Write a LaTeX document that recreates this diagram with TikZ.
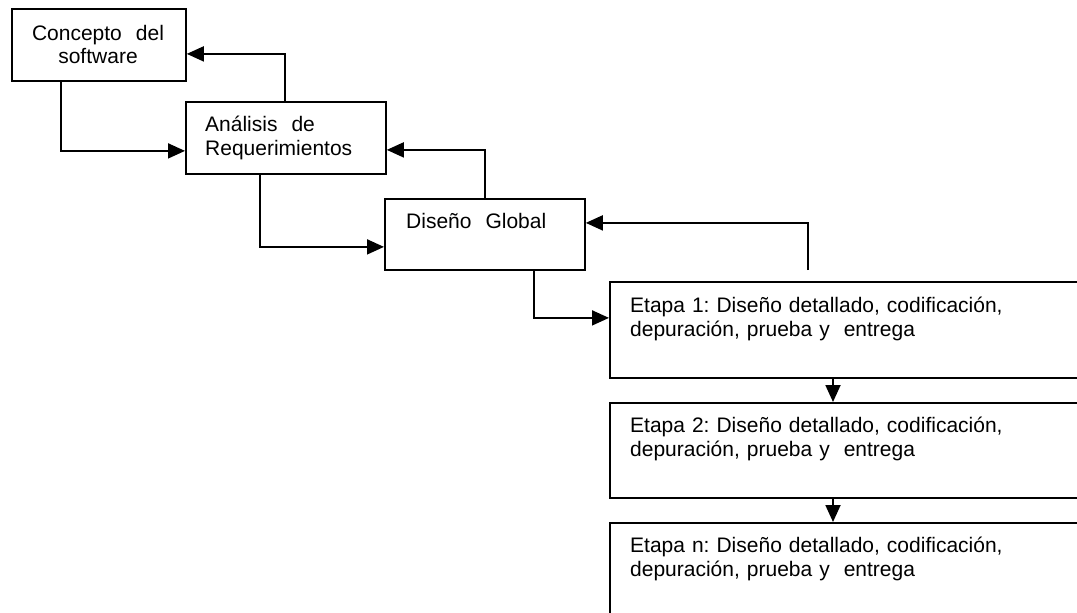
\documentclass[tikz,border=0pt]{standalone}
\usepackage{fontspec}
\setmainfont{Liberation Sans}
\usetikzlibrary{arrows.meta}
\frenchspacing

\begin{document}
\begin{tikzpicture}[x=1pt, y=-1pt,
  box/.style={draw, line width=1.8pt, rectangle, inner sep=0pt, anchor=north west},
  txt/.style={inner sep=0pt, anchor=base west, text width=440pt, align=left,
    font=\fontsize{21}{24}\selectfont},
  conn/.style={line width=1.8pt, -{Triangle[length=17pt,width=15pt]}}]
\useasboundingbox (0,0) rectangle (1077,613);

\node[box, minimum width=174pt, minimum height=72pt] (concepto) at (11,8) {};
\node[box, minimum width=200pt, minimum height=72pt] (analisis) at (185,101) {};
\node[box, minimum width=200pt, minimum height=71pt] (global) at (384,198) {};
\node[box, minimum width=472pt, minimum height=96pt] (etapa1) at (609,281) {};
\node[box, minimum width=472pt, minimum height=95pt] (etapa2) at (609,402) {};
\node[box, minimum width=472pt, minimum height=100pt] (etapan) at (609,522) {};

\node[txt, anchor=base, text width=160pt, align=center] (tconcepto) at ([xshift=87pt, yshift=-32pt]concepto.north west) {Concepto\ \ del\\software};
\node[txt] (tanalisis) at ([xshift=20pt, yshift=-30pt]analisis.north west) {Análisis\ \ de\\Requerimientos};
\node[txt] (tglobal) at ([xshift=22pt, yshift=-30pt]global.north west) {Diseño\ \ Global};
\node[txt] (tetapa1) at ([xshift=21pt, yshift=-31pt]etapa1.north west) {Etapa 1: Diseño detallado, codificación,\\depuración, prueba y\ \ entrega};
\node[txt] (tetapa2) at ([xshift=21pt, yshift=-30pt]etapa2.north west) {Etapa 2: Diseño detallado, codificación,\\depuración, prueba y\ \ entrega};
\node[txt] (tetapan) at ([xshift=21pt, yshift=-30pt]etapan.north west) {Etapa n: Diseño detallado, codificación,\\depuración, prueba y\ \ entrega};

\coordinate (retorno) at ([xshift=199pt, yshift=11pt]etapa1.north west);

\draw[conn] ([xshift=50pt]concepto.south west) |- ([yshift=-13pt]analisis.west);
\draw[conn] ([xshift=100pt]analisis.north west) |- ([yshift=-9pt]concepto.east);
\draw[conn] ([xshift=75pt]analisis.south west) |- ([yshift=-12.5pt]global.west);
\draw[conn] ([xshift=101pt]global.north west) |- ([yshift=-12pt]analisis.east);
\draw[conn] ([xshift=150pt]global.south west) |- ([yshift=12pt]etapa1.west);
\draw[conn] (retorno) |- ([yshift=11.5pt]global.east);
\draw[conn] ([xshift=224pt]etapa1.south west) -- ([xshift=224pt]etapa2.north west);
\draw[conn] ([xshift=224pt]etapa2.south west) -- ([xshift=224pt]etapan.north west);
\end{tikzpicture}
\end{document}
